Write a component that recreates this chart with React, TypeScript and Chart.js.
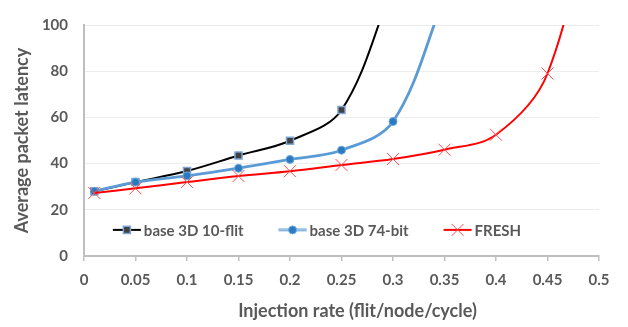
import React, { useEffect, useRef } from 'react';
import { Chart, registerables } from 'chart.js';
import { drawPoint } from 'chart.js/helpers';

Chart.register(...registerables);

// ---- data ----
const injectionRates = [0.01, 0.05, 0.1, 0.15, 0.2, 0.25, 0.3, 0.35, 0.4, 0.45, 0.5];
const base10Flit = [28, 32, 36.8, 43.5, 49.9, 63.2, 117];
const base74Bit = [28, 32, 34.7, 38, 41.8, 45.8, 58.2, 112];
const fresh = [27.3, 29.3, 32, 34.6, 36.7, 39.4, 42, 46, 52.5, 79, 168];
const seriesLabels = ['base 3D 10-flit', 'base 3D 74-bit', 'FRESH'];
const xTickValues = [0, 0.05, 0.1, 0.15, 0.2, 0.25, 0.3, 0.35, 0.4, 0.45, 0.5];
const yTickValues = [0, 20, 40, 60, 80, 100];
const xTitle = 'Injection rate (flit/node/cycle)';
const yTitle = 'Average packet latency';
const yMin = 0;
const yMax = 100;

const FAMILY = 'Lato, "Liberation Sans", sans-serif';
const TEXT = '#595959';
const STRIPE = '#c9def2';

const toPoints = (vals: number[]) => vals.map((v, i) => ({ x: injectionRates[i], y: v }));
const hideBeyond = (r: number) => (c: any) => (c.raw && c.raw.y > yMax ? 0 : r);

const markers = [
  { pointStyle: 'rect', radius: 5, backgroundColor: '#404040', borderColor: '#7fa7d6', borderWidth: 1.5, line: '#000000', lineWidth: 2 },
  { pointStyle: 'circle', radius: 4, backgroundColor: '#2a7ac0', borderColor: '#6fa8dc', borderWidth: 1, line: '#5b9bd5', lineWidth: 2.8 },
  { pointStyle: 'crossRot', radius: 8.5, backgroundColor: '#ff4d4d', borderColor: '#ff4d4d', borderWidth: 1, line: '#ff0000', lineWidth: 2 },
];

const overlayPlugin = {
  id: 'overlay',
  afterDraw(chart: any) {
    const { ctx, chartArea, scales } = chart;
    ctx.save();
    // legend
    ctx.font = `bold 15px ${FAMILY}`;
    const lineLen = 28;
    const gapText = 3;
    const gapItem = 35;
    const widths = seriesLabels.map((l) => ctx.measureText(l).width);
    const total = widths.reduce((a, w) => a + lineLen + gapText + w, 0) + gapItem * (seriesLabels.length - 1);
    let x = chart.width / 2 + 3 - total / 2;
    const y = scales.y.getPixelForValue(11.3);
    seriesLabels.forEach((label, i) => {
      const m = markers[i];
      ctx.strokeStyle = m.line;
      ctx.lineWidth = m.lineWidth;
      ctx.beginPath();
      ctx.moveTo(x, y);
      ctx.lineTo(x + lineLen, y);
      ctx.stroke();
      if (i === 1) {
        ctx.strokeStyle = STRIPE;
        ctx.lineWidth = 1;
        ctx.beginPath();
        ctx.moveTo(x, y);
        ctx.lineTo(x + lineLen, y);
        ctx.stroke();
      }
      ctx.fillStyle = m.backgroundColor;
      ctx.strokeStyle = m.borderColor;
      ctx.lineWidth = m.borderWidth;
      drawPoint(ctx, { pointStyle: m.pointStyle as any, radius: m.radius, rotation: 0, borderWidth: m.borderWidth }, x + lineLen / 2, y);
      ctx.fillStyle = TEXT;
      ctx.textAlign = 'left';
      ctx.textBaseline = 'middle';
      ctx.fillText(label, x + lineLen + gapText, y + 1);
      x += lineLen + gapText + widths[i] + gapItem;
    });
    // x axis title
    ctx.font = `bold 18px ${FAMILY}`;
    ctx.fillStyle = TEXT;
    ctx.textAlign = 'center';
    ctx.textBaseline = 'middle';
    ctx.fillText(xTitle, (chartArea.left + chartArea.right) / 2 + 16, 311);
    ctx.restore();
  },
};

export default function App() {
  const ref = useRef<HTMLCanvasElement>(null);
  useEffect(() => {
    if (!ref.current) return;
    const seriesData = [base10Flit, base74Bit, fresh];
    const datasets: any[] = seriesData.map((vals, i) => {
      const m = markers[i];
      return {
        label: seriesLabels[i],
        data: toPoints(vals),
        borderColor: m.line,
        borderWidth: m.lineWidth,
        pointStyle: m.pointStyle,
        pointRadius: hideBeyond(m.radius),
        pointBackgroundColor: m.backgroundColor,
        pointBorderColor: m.borderColor,
        pointBorderWidth: m.borderWidth,
        tension: 0.35,
        order: i === 0 ? 3 : i === 1 ? 1 : 0,
      };
    });
    datasets.push({
      label: 'stripe',
      data: toPoints(base74Bit),
      borderColor: STRIPE,
      borderWidth: 1,
      pointRadius: 0,
      tension: 0.35,
      order: 2,
    });
    const chart = new Chart(ref.current, {
      type: 'line',
      data: { datasets },
      options: {
        responsive: false,
        animation: false,
        events: [],
        layout: { padding: { top: 11, right: 29, left: 0, bottom: 0 } },
        elements: { line: { capBezierPoints: false } },
        plugins: { legend: { display: false }, tooltip: { enabled: false } },
        scales: {
          x: {
            type: 'linear',
            min: 0,
            max: 0.5,
            afterBuildTicks: (s: any) => {
              s.ticks = xTickValues.map((v) => ({ value: v }));
            },
            afterFit: (s: any) => {
              s.height = 71;
            },
            grid: { drawOnChartArea: false, drawTicks: true, tickLength: 5, color: '#bfbfbf', lineWidth: 1.5 },
            border: { color: '#bfbfbf', width: 2 },
            ticks: {
              color: TEXT,
              font: { family: FAMILY, size: 15, weight: 'bold' },
              padding: 10,
              maxRotation: 0,
              autoSkip: false,
              callback: (v: any) => String(v),
            },
          },
          y: {
            min: yMin,
            max: yMax,
            afterBuildTicks: (s: any) => {
              s.ticks = yTickValues.map((v) => ({ value: v }));
            },
            afterFit: (s: any) => {
              s.width = 84;
            },
            grid: { color: '#ededed', lineWidth: 1, drawTicks: false },
            border: { color: '#bfbfbf', width: 2 },
            ticks: { color: TEXT, font: { family: FAMILY, size: 15, weight: 'bold' }, padding: 16 },
            title: {
              display: true,
              text: yTitle,
              color: TEXT,
              font: { family: FAMILY, size: 18, weight: 'bold' },
              padding: { top: 11, bottom: 0 },
            },
          },
        },
      },
      plugins: [overlayPlugin],
    });
    return () => chart.destroy();
  }, []);
  return (
    <div style={{ position: 'fixed', left: 0, top: 0, width: 628, height: 327, background: '#fff' }}>
      <canvas ref={ref} width={628} height={327} />
    </div>
  );
}
